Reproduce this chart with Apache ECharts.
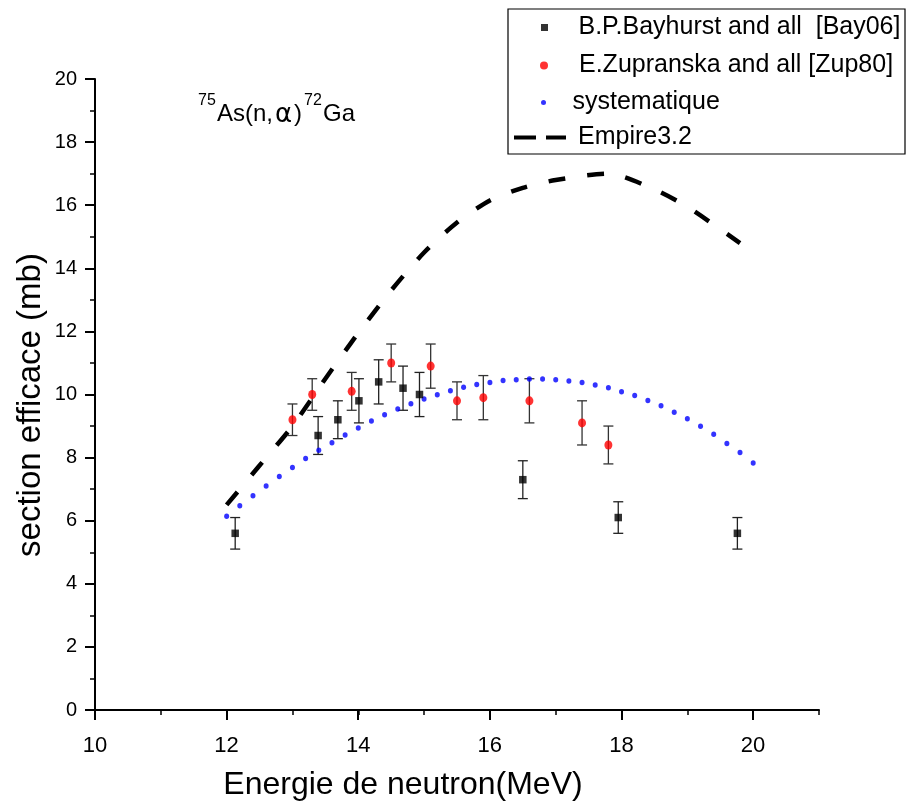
<!DOCTYPE html>
<html><head><meta charset="utf-8">
<script src="https://cdn.jsdelivr.net/npm/echarts@6/dist/echarts.min.js"></script>
<style>html,body{margin:0;padding:0;background:#fff}#c{width:909px;height:812px}</style>
</head><body><div id="c"></div>
<script>
// ---- data ----
const bayName = 'B.P.Bayhurst and all  [Bay06]';
const bayEnergy = [12.13, 13.39, 13.69, 14.01, 14.31, 14.68, 14.93, 16.50, 17.95, 19.76];
const baySigma  = [5.6, 8.7, 9.2, 9.8, 10.4, 10.2, 10.0, 7.3, 6.1, 5.6];
const bayErr    = [0.5, 0.6, 0.6, 0.7, 0.7, 0.7, 0.7, 0.6, 0.5, 0.5];

const zupName = 'E.Zupranska and all [Zup80]';
const zupEnergy = [13.0, 13.3, 13.9, 14.5, 15.1, 15.5, 15.9, 16.6, 17.4, 17.8];
const zupSigma  = [9.2, 10.0, 10.1, 11.0, 10.9, 9.8, 9.9, 9.8, 9.1, 8.4];
const zupErr    = [0.5, 0.5, 0.6, 0.6, 0.7, 0.6, 0.7, 0.7, 0.7, 0.6];

const sysName = 'systematique';
const sysEnergy = [12.0, 12.2, 12.4, 12.6, 12.8, 13.0, 13.2, 13.4, 13.6, 13.8,
                   14.0, 14.2, 14.4, 14.6, 14.8, 15.0, 15.2, 15.4, 15.6, 15.8,
                   16.0, 16.2, 16.4, 16.6, 16.8, 17.0, 17.2, 17.4, 17.6, 17.8,
                   18.0, 18.2, 18.4, 18.6, 18.8, 19.0, 19.2, 19.4, 19.6, 19.8, 20.0];
const sysSigma  = [6.14, 6.47, 6.79, 7.10, 7.40, 7.69, 7.97, 8.23, 8.47, 8.72,
                   8.94, 9.16, 9.36, 9.54, 9.71, 9.86, 9.99, 10.12, 10.23, 10.32,
                   10.38, 10.44, 10.47, 10.49, 10.49, 10.47, 10.43, 10.38, 10.30, 10.21,
                   10.09, 9.97, 9.81, 9.64, 9.44, 9.23, 8.99, 8.74, 8.45, 8.16, 7.83];

const empName = 'Empire3.2';
const empEnergy = [12.0, 12.5, 13.0, 13.5, 14.0, 14.5, 15.0, 15.5, 16.0, 16.5, 17.0, 17.8, 18.5, 19.0, 19.8];
const empSigma  = [6.5, 7.75, 9.0, 10.5, 11.95, 13.3, 14.5, 15.45, 16.15, 16.55, 16.8, 17.0, 16.5, 15.95, 14.8];

const xTickLabels = [10, 12, 14, 16, 18, 20];
const yTickLabels = [0, 2, 4, 6, 8, 10, 12, 14, 16, 18, 20];

// ---- build ----
const zip = (a, b) => a.map((v, i) => [v, b[i]]);
const errData = (e, s, d) => e.map((v, i) => [v, s[i] - d[i], s[i] + d[i]]);
const FONT = '"Liberation Sans", Arial, sans-serif';

function errorBarSeries(data, color) {
  return {
    type: 'custom', xAxisIndex: 0, yAxisIndex: 0, z: 3, silent: true,
    encode: { x: 0, y: [1, 2] },
    data: data,
    renderItem: function (params, api) {
      const x = api.value(0);
      const lo = api.coord([x, api.value(1)]);
      const hi = api.coord([x, api.value(2)]);
      const w = 5;
      const st = { stroke: color, lineWidth: 1.3 };
      return {
        type: 'group', children: [
          { type: 'line', shape: { x1: lo[0], y1: lo[1], x2: hi[0], y2: hi[1] }, style: st },
          { type: 'line', shape: { x1: lo[0] - w, y1: lo[1], x2: lo[0] + w, y2: lo[1] }, style: st },
          { type: 'line', shape: { x1: hi[0] - w, y1: hi[1], x2: hi[0] + w, y2: hi[1] }, style: st }
        ]
      };
    }
  };
}

const legendText = { fontSize: 25, fontFamily: FONT, color: '#000' };
function oneLegend(item, left, cy, w, h) {
  return {
    data: [item], left: left, top: cy - 12, padding: 0, orient: 'horizontal',
    itemWidth: w, itemHeight: h, selectedMode: false, textStyle: legendText
  };
}

const chart = echarts.init(document.getElementById('c'), null, { renderer: 'canvas' });
chart.setOption({
  animation: false,
  backgroundColor: '#fff',
  grid: [
    { left: 95, top: 79, width: 724, height: 631 },
    { left: 95, top: 79, width: 658, height: 631 }
  ],
  xAxis: [
    { gridIndex: 0, type: 'value', min: 10, max: 21, interval: 1,
      axisLine: { lineStyle: { color: '#000', width: 2 } },
      axisTick: { length: 5, lineStyle: { color: '#000', width: 1.5 } },
      axisLabel: { show: false }, splitLine: { show: false } },
    { gridIndex: 1, type: 'value', min: xTickLabels[0], max: xTickLabels[xTickLabels.length - 1], interval: 2,
      axisLine: { show: false },
      axisTick: { length: 10, lineStyle: { color: '#000', width: 2 } },
      axisLabel: { fontSize: 22, fontFamily: FONT, color: '#000', margin: 25 },
      splitLine: { show: false } }
  ],
  yAxis: [
    { gridIndex: 0, type: 'value', min: yTickLabels[0], max: yTickLabels[yTickLabels.length - 1], interval: 2,
      axisLine: { show: true, lineStyle: { color: '#000', width: 2 } },
      axisTick: { show: true, length: 10, lineStyle: { color: '#000', width: 2 } },
      minorTick: { show: true, splitNumber: 2, length: 5, lineStyle: { color: '#000', width: 1.5 } },
      axisLabel: { fontSize: 20, fontFamily: FONT, color: '#000', margin: 18 },
      splitLine: { show: false } },
    { gridIndex: 1, type: 'value', min: 0, max: 20, show: false }
  ],
  legend: [
    oneLegend({ name: bayName, icon: 'path://M0,0L10,0L10,10L0,10Z' }, 541, 27, 58, 7),
    oneLegend({ name: zupName, icon: 'circle' }, 540, 65, 60, 8),
    oneLegend({ name: sysName, icon: 'circle' }, 541, 102, 48, 5),
    Object.assign(oneLegend({ name: empName }, 512, 137, 59, 14),
      { lineStyle: { type: [22, 10, 20, 40], width: 4, color: '#000' }, itemStyle: { opacity: 0 } })
  ],
  graphic: [
    { type: 'rect', shape: { x: 508, y: 9, width: 397, height: 145 },
      style: { fill: 'none', stroke: '#000', lineWidth: 1.2 }, z: 10 },
    { type: 'text', x: 198, y: 101, style: { text: '75', fontSize: 16, fontFamily: FONT, fill: '#000', verticalAlign: 'middle' } },
    { type: 'text', x: 217, y: 114, style: { text: 'As(n,', fontSize: 24, fontFamily: FONT, fill: '#000', verticalAlign: 'middle' } },
    { type: 'text', x: 275, y: 115, style: { text: 'α', fontSize: 26, fontFamily: '"DejaVu Sans", sans-serif', fill: '#000', verticalAlign: 'middle' } },
    { type: 'text', x: 294, y: 114, style: { text: ')', fontSize: 24, fontFamily: FONT, fill: '#000', verticalAlign: 'middle' } },
    { type: 'text', x: 304, y: 101, style: { text: '72', fontSize: 16, fontFamily: FONT, fill: '#000', verticalAlign: 'middle' } },
    { type: 'text', x: 323, y: 114, style: { text: 'Ga', fontSize: 24, fontFamily: FONT, fill: '#000', verticalAlign: 'middle' } },
    { type: 'text', x: 403, y: 785, style: { text: 'Energie de neutron(MeV)', fontSize: 32, fontFamily: FONT, fill: '#000', align: 'center', verticalAlign: 'middle' } },
    { type: 'text', x: 31, y: 405, rotation: Math.PI / 2,
      style: { text: 'section efficace (mb)', fontSize: 33, fontFamily: FONT, fill: '#000', align: 'center', verticalAlign: 'middle' } }
  ],
  series: [
    { name: empName, type: 'line', xAxisIndex: 0, yAxisIndex: 0, data: zip(empEnergy, empSigma),
      symbol: 'none', smooth: 0.25, z: 2,
      lineStyle: { color: '#000', width: 4.5, type: [17, 21.9] }, itemStyle: { color: '#000' } },
    { name: sysName, type: 'scatter', xAxisIndex: 0, yAxisIndex: 0, data: zip(sysEnergy, sysSigma),
      symbol: 'circle', symbolSize: [5, 5.5], z: 4, itemStyle: { color: '#0000ff' } },
    errorBarSeries(errData(bayEnergy, baySigma, bayErr), '#222'),
    errorBarSeries(errData(zupEnergy, zupSigma, zupErr), '#333'),
    { name: bayName, type: 'scatter', xAxisIndex: 0, yAxisIndex: 0, data: zip(bayEnergy, baySigma),
      symbol: 'rect', symbolSize: 7.5, z: 5, itemStyle: { color: '#000' } },
    { name: zupName, type: 'scatter', xAxisIndex: 0, yAxisIndex: 0, data: zip(zupEnergy, zupSigma),
      symbol: 'circle', symbolSize: [8, 9], z: 5, itemStyle: { color: '#ff0000' } }
  ]
});
</script>
</body></html>
